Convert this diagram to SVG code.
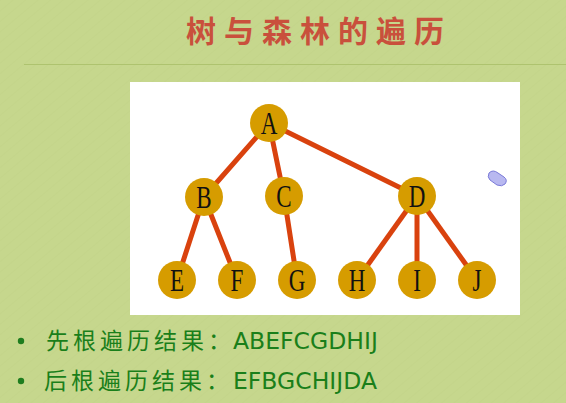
<svg xmlns="http://www.w3.org/2000/svg" width="566" height="403" viewBox="0 0 566 403">
  <defs>
    <pattern id="tex" width="8" height="8" patternUnits="userSpaceOnUse" patternTransform="rotate(-40)">
      <line x1="0" y1="0" x2="8" y2="0" stroke="#b9cc80" stroke-width="0.8" opacity="0.6"/>
    </pattern>
  </defs>
  <style>
    .edge { stroke: #d9420e; stroke-width: 5; stroke-linecap: round; }
    .node circle { fill: #d69c00; }
    .node text { font-family: "Liberation Serif", "DejaVu Serif", serif; font-size: 32px; fill: #111; text-anchor: middle; }
    .bullet { fill: #1f7d1f; }
    .res { font-family: "Noto Sans CJK SC", "DejaVu Sans", sans-serif; font-size: 23px; fill: #1a7f1a; letter-spacing: 4px; }
    .lat { font-family: "DejaVu Sans", "Noto Sans", sans-serif; font-size: 23.5px; letter-spacing: 0; }
  </style>
  <rect x="0" y="0" width="566" height="403" fill="#c6d78d"/>
  <rect x="0" y="0" width="566" height="403" fill="url(#tex)"/>
  <line x1="24" y1="64.5" x2="566" y2="64.5" stroke="#aec36f" stroke-width="1"/>
  <text x="319" y="42" text-anchor="middle" font-family="Noto Sans CJK SC, sans-serif" font-weight="bold" font-size="30" letter-spacing="8" fill="#c9503c">树与森林的遍历</text>
  <rect x="130" y="82" width="390" height="233" fill="#ffffff"/>
  <g id="connectors">
    <line class="edge" x1="269" y1="123" x2="204" y2="197"/>
    <line class="edge" x1="269" y1="123" x2="284" y2="196"/>
    <line class="edge" x1="269" y1="123" x2="417" y2="196"/>
    <line class="edge" x1="204" y1="197" x2="177" y2="280"/>
    <line class="edge" x1="204" y1="197" x2="237" y2="280"/>
    <line class="edge" x1="284" y1="196" x2="297" y2="280"/>
    <line class="edge" x1="417" y1="196" x2="357" y2="280"/>
    <line class="edge" x1="417" y1="196" x2="417" y2="280"/>
    <line class="edge" x1="417" y1="196" x2="477" y2="280"/>
  </g>
  <g id="A" class="node"><circle cx="269" cy="123" r="19"/><text transform="translate(269 134) scale(0.72 1)">A</text></g>
  <g id="B" class="node"><circle cx="204" cy="197" r="19"/><text transform="translate(204 208) scale(0.72 1)">B</text></g>
  <g id="C" class="node"><circle cx="284" cy="196" r="19"/><text transform="translate(284 207) scale(0.72 1)">C</text></g>
  <g id="D" class="node"><circle cx="417" cy="196" r="19"/><text transform="translate(417 207) scale(0.72 1)">D</text></g>
  <g id="E" class="node"><circle cx="177" cy="280" r="19"/><text transform="translate(177 291) scale(0.72 1)">E</text></g>
  <g id="F" class="node"><circle cx="237" cy="280" r="19"/><text transform="translate(237 291) scale(0.72 1)">F</text></g>
  <g id="G" class="node"><circle cx="297" cy="280" r="19"/><text transform="translate(297 291) scale(0.72 1)">G</text></g>
  <g id="H" class="node"><circle cx="357" cy="280" r="19"/><text transform="translate(357 291) scale(0.72 1)">H</text></g>
  <g id="I" class="node"><circle cx="417" cy="280" r="19"/><text transform="translate(417 291) scale(0.72 1)">I</text></g>
  <g id="J" class="node"><circle cx="477" cy="280" r="19"/><text transform="translate(477 291) scale(0.72 1)">J</text></g>
  <g id="cursor">
    <path d="M489 173 q4 -4 9 0 l6 4 q4 3 1 7 q-3 3 -8 1 l-7 -5 q-3 -3 -1 -7 z" fill="#b8b8f0" stroke="#7a7ad8" stroke-width="1"/>
  </g>
  <circle class="bullet" cx="21" cy="341" r="3.2"/>
  <circle class="bullet" cx="21" cy="381" r="3.2"/>
  <text class="res" x="46" y="349">先根遍历结果：<tspan class="lat" x="233">ABEFCGDHIJ</tspan></text>
  <text class="res" x="44" y="389">后根遍历结果：<tspan class="lat" x="233">EFBGCHIJDA</tspan></text>
</svg>
